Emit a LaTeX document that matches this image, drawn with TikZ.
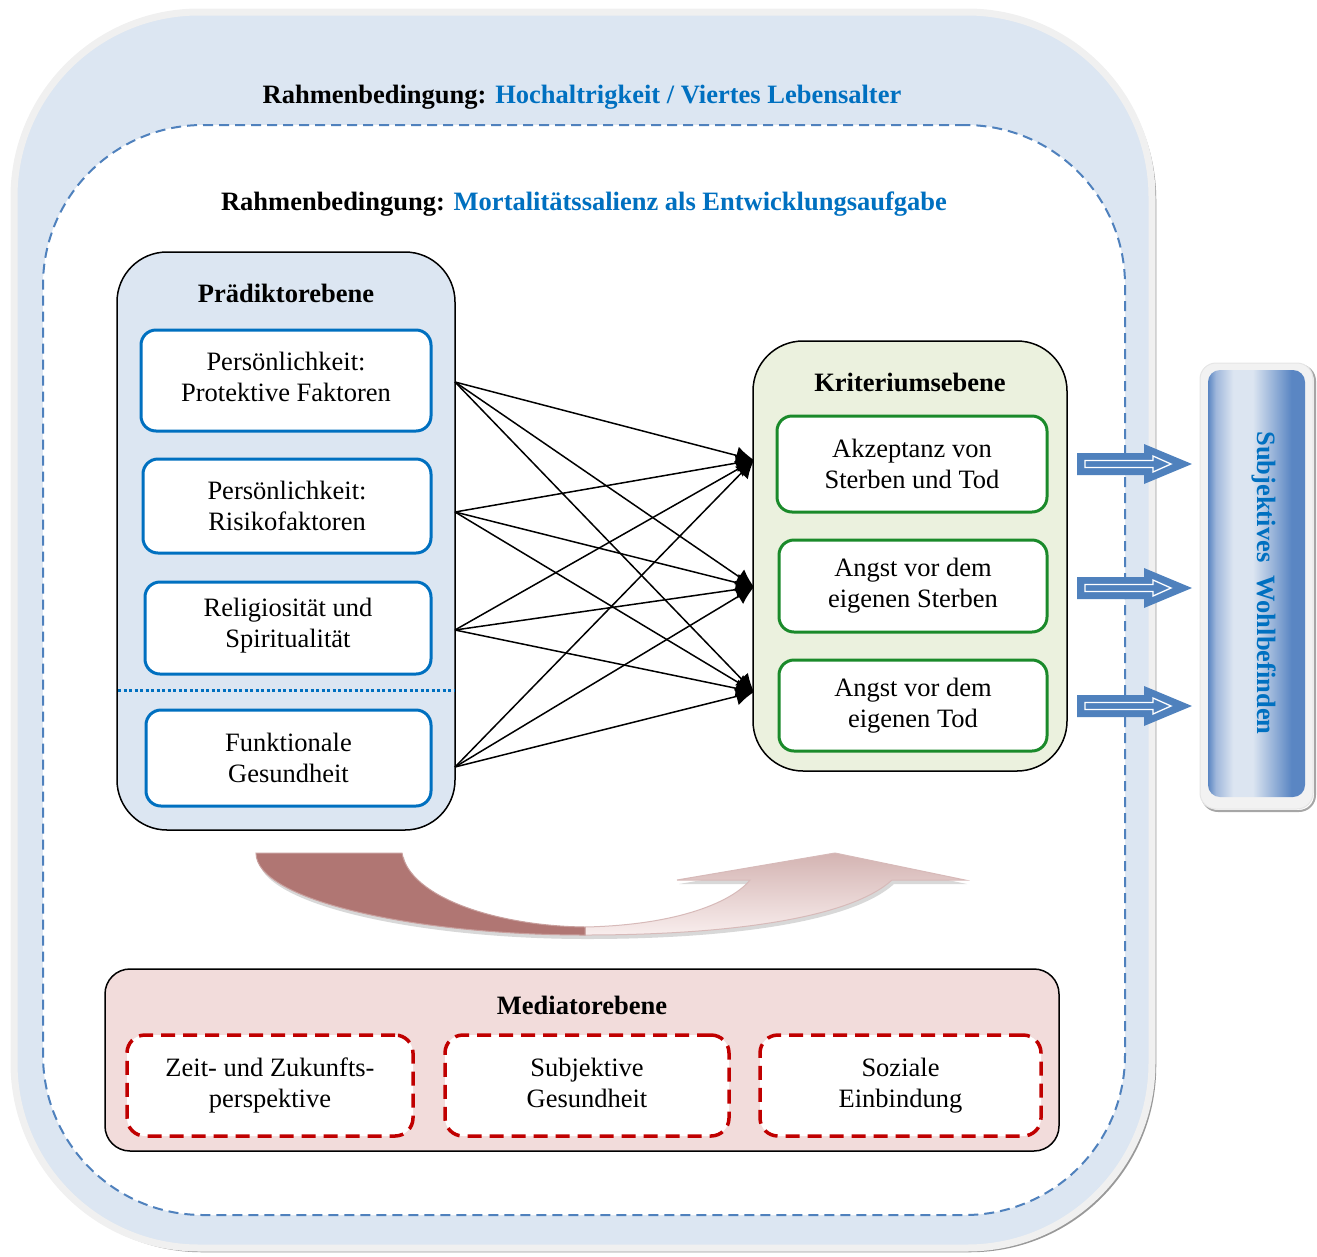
\documentclass[tikz,border=0pt]{standalone}
\usepackage{fontspec}
\setmainfont{Liberation Serif}
\usetikzlibrary{arrows.meta}
\definecolor{tblue}{HTML}{0070C0}
\definecolor{dblue}{HTML}{4F81BD}
\definecolor{lblue}{HTML}{DCE6F2}
\definecolor{lgreen}{HTML}{EBF1DE}
\definecolor{kgreen}{HTML}{1A8A2A}
\definecolor{lrose}{HTML}{F2DCDB}
\definecolor{kred}{HTML}{C00000}
\definecolor{darkrose}{HTML}{B07673}
\definecolor{barblue}{HTML}{5A86C3}
\definecolor{barmid}{HTML}{9FB7DB}
\definecolor{barlight}{HTML}{DCE5F1}
\pgfdeclarehorizontalshading{bluebar}{100bp}{color(0bp)=(barblue); color(25bp)=(barblue); color(29bp)=(barmid); color(38bp)=(barlight); color(48bp)=(barlight); color(68bp)=(barblue); color(100bp)=(barblue)}
\begin{document}
\begin{tikzpicture}[x=1pt,y=-1pt,
  every node/.style={font=\fontsize{26.5}{31}\selectfont, inner sep=0pt, align=center},
  container/.style={draw=black, line width=1.5pt, rounded corners=50pt},
  predbox/.style={draw=tblue, line width=3pt, fill=white, rounded corners=15pt},
  kribox/.style={draw=kgreen, line width=3pt, fill=white, rounded corners=15pt},
  medbox/.style={draw=kred, line width=3.5pt, fill=white, rounded corners=18pt, dash pattern=on 14pt off 8pt},
  conn/.style={draw=black, line width=1.5pt, -{Latex[length=18pt,width=18pt]}},
  heading/.style={font=\fontsize{26.5}{31}\selectfont\bfseries},
  blockarrow/.pic={
    \fill[dblue] (0,-11) -- (67,-11) -- (67,-20) -- (115,0) -- (67,20) -- (67,11) -- (0,11) -- cycle;
    \draw[white, line width=1.3pt] (8,-3.5) -- (76,-3.5) -- (76,-8) -- (94,0) -- (76,8) -- (76,3.5) -- (8,3.5) -- cycle;
  }]
\useasboundingbox (0,0) rectangle (1317,1256);

% outer frame
\node[draw=black!40, line width=2.5pt, rounded corners=185pt, minimum width=1138pt, minimum height=1236pt] (outershadow) at (586,633) {};
\node[draw=black!6, fill=lblue, line width=7pt, rounded corners=185pt, minimum width=1138pt, minimum height=1236pt] (outer) at (583,630) {};
\node[heading] (t1) at (582,97) {Rahmenbedingung: \textcolor{tblue}{Hochaltrigkeit / Viertes Lebensalter}};

% inner dashed frame
\node[draw=dblue, fill=white, line width=2pt, dash pattern=on 10pt off 6pt, rounded corners=160pt, minimum width=1082pt, minimum height=1090pt] (inner) at (584,670) {};
\node[heading] (t2) at (584,204) {Rahmenbedingung: \textcolor{tblue}{Mortalitätssalienz als Entwicklungsaufgabe}};

% Prädiktorebene
\node[container, fill=lblue, minimum width=338pt, minimum height=578pt] (pred) at (286,541) {};
\node[heading] (predt) at (286,293) {Prädiktorebene};
\node[predbox, minimum width=290pt, minimum height=101pt] (p1) at (286,380.5) {};
\node (p1t) at (286,377) {Persönlichkeit:\\Protektive Faktoren};
\node[predbox, minimum width=288pt, minimum height=94pt] (p2) at (287,506) {Persönlichkeit:\\Risikofaktoren};
\node[predbox, minimum width=286pt, minimum height=92pt] (p3) at (288,628) {};
\node (p3t) at (288,626) {Religiosität und\\Spiritualität};
\node[predbox, minimum width=285pt, minimum height=96pt] (p4) at (288.5,758) {Funktionale\\Gesundheit};
\coordinate (dl) at (118,690);
\coordinate (dr) at (454,690);
\draw[tblue, line width=3pt, dash pattern=on 3pt off 2.5pt] (dl) -- (dr);

% Kriteriumsebene
\node[container, fill=lgreen, minimum width=314pt, minimum height=430pt] (kri) at (910,556) {};
\node[heading] (krit) at (910,382) {Kriteriumsebene};
\node[kribox, minimum width=270pt, minimum height=96pt] (k1) at (912,464) {Akzeptanz von\\Sterben und Tod};
\node[kribox, minimum width=268pt, minimum height=92pt] (k2) at (913,586) {Angst vor dem\\eigenen Sterben};
\node[kribox, minimum width=268pt, minimum height=91pt] (k3) at (913,705.5) {Angst vor dem\\eigenen Tod};

% connectors
\coordinate (s1) at (455,382);
\coordinate (s2) at (455,512);
\coordinate (s3) at (455,630);
\coordinate (s4) at (455,767);
\coordinate (e1) at (754,460);
\coordinate (e2) at (754,587);
\coordinate (e3) at (754,692);
\foreach \s in {s1,s2,s3,s4}{
  \foreach \e in {e1,e2,e3}{
    \draw[conn] (\s) -- (\e);
  }
}

% curved arrow
\fill[black!25, opacity=0.6] (258,857) -- (404,857) .. controls (412,902) and (500,930) .. (587,931)
  .. controls (680,929) and (735,905) .. (752,884) -- (679,884) -- (837,857) -- (967,884) -- (894,884)
  .. controls (850,924) and (720,939) .. (587,939) .. controls (420,939) and (258,905) .. (258,857) -- cycle;
\shade[top color=darkrose!55, bottom color=lrose!50, draw=darkrose!50, line width=1pt]
  (585,927) .. controls (680,925) and (733,901) .. (750,880) -- (677,880) -- (835,853) -- (965,880) -- (892,880)
  .. controls (848,920) and (720,935) .. (585,935) -- cycle;
\fill[darkrose, draw=darkrose!70, line width=1pt] (256,853) -- (402,853) .. controls (410,898) and (498,926) .. (585,927)
  -- (585,935) .. controls (418,935) and (256,901) .. (256,853) -- cycle;

% Mediatorebene
\node[container, rounded corners=25pt, fill=lrose, minimum width=954pt, minimum height=182pt] (med) at (582,1060) {};
\node[heading] (medt) at (582,1005) {Mediatorebene};
\node[medbox, minimum width=286pt, minimum height=101pt] (m1) at (270,1085.5) {Zeit- und Zukunfts-\\perspektive};
\node[medbox, minimum width=284pt, minimum height=101pt] (m2) at (587,1085.5) {};
\node (m2t) at (587,1083) {Subjektive\\Gesundheit};
\node[medbox, minimum width=281pt, minimum height=101pt] (m3) at (900.5,1085.5) {Soziale\\Einbindung};

% Subjektives Wohlbefinden
\node[draw=black!35, line width=2pt, rounded corners=16pt, minimum width=113pt, minimum height=446pt] (wshadow) at (1258.5,588) {};
\node[fill=black!5, draw=black!10, line width=1pt, rounded corners=16pt, minimum width=113pt, minimum height=446pt] (wframe) at (1256.5,586) {};
\node[shading=bluebar, rounded corners=12pt, minimum width=97pt, minimum height=427pt] (wohl) at (1256.5,583.5) {};
\node[heading, text=tblue, rotate=-90] (wohlt) at (1264,583) {Subjektives\ \ Wohlbefinden};

% block arrows
\coordinate (b1) at (1077,464);
\coordinate (b2) at (1077,588);
\coordinate (b3) at (1077,706);
\pic at (b1) {blockarrow};
\pic at (b2) {blockarrow};
\pic at (b3) {blockarrow};
\end{tikzpicture}
\end{document}
